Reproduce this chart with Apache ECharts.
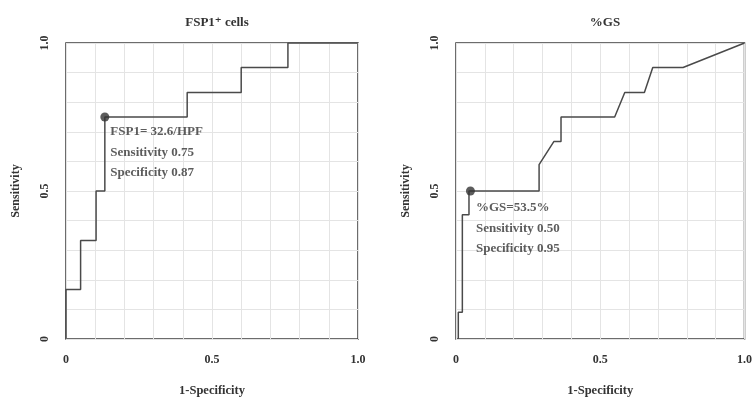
<!DOCTYPE html>
<html>
<head>
<meta charset="utf-8">
<script src="https://cdn.jsdelivr.net/npm/echarts@6/dist/echarts.min.js"></script>
<style>
  html, body { margin: 0; padding: 0; background: #fff; }
  #chart { width: 755px; height: 402px; }
</style>
</head>
<body>
<div id="chart"></div>
<script>
// ROC curve, FSP1+ cells
const fspX = [0, 0, 0.05, 0.05, 0.103, 0.103, 0.133, 0.133, 0.415, 0.415, 0.6, 0.6, 0.76, 0.76, 1];
const fspY = [0, 0.167, 0.167, 0.333, 0.333, 0.5, 0.5, 0.75, 0.75, 0.833, 0.833, 0.917, 0.917, 1, 1];
const fspCut = [0.133, 0.75];
const fspText = ['FSP1= 32.6/HPF', 'Sensitivity 0.75', 'Specificity 0.87'];

// ROC curve, %GS
const gsX = [0.008, 0.008, 0.022, 0.022, 0.045, 0.045, 0.288, 0.288, 0.339, 0.364, 0.364, 0.55, 0.585, 0.653, 0.682, 0.787, 1];
const gsY = [0, 0.09, 0.09, 0.42, 0.42, 0.5, 0.5, 0.589, 0.667, 0.667, 0.75, 0.75, 0.833, 0.833, 0.917, 0.917, 1];
const gsCut = [0.05, 0.5];
const gsText = ['%GS=53.5%', 'Sensitivity 0.50', 'Specificity 0.95'];

const titles = ['FSP1\u207A cells', '%GS'];
const tickLabels = { 0: '0', 0.5: '0.5', 1: '1.0' };

const font = '"Liberation Serif", "DejaVu Serif", serif';
const pairs = (xs, ys) => xs.map((x, i) => [x, ys[i]]);

const fmt = v => {
    for (const k in tickLabels) {
        if (Math.abs(v - Number(k)) < 1e-6) return tickLabels[k];
    }
    return '';
};

const txt = size => ({ fontFamily: font, fontWeight: 'bold', fontSize: size, color: '#333' });

const makeX = idx => ({
    type: 'value', gridIndex: idx, min: 0, max: 1, interval: 0.1,
    name: '1-Specificity', nameLocation: 'middle', nameGap: 45,
    nameTextStyle: txt(12.5),
    axisLine: { show: false }, axisTick: { show: false },
    axisLabel: Object.assign({ formatter: fmt, margin: 15 }, txt(12)),
    splitLine: { show: true, lineStyle: { color: '#e4e4e4', width: 1 } }
});

const makeY = idx => ({
    type: 'value', gridIndex: idx, min: 0, max: 1, interval: 0.1,
    name: 'Sensitivity', nameLocation: 'middle', nameGap: 44, nameRotate: 90,
    nameTextStyle: txt(12),
    axisLine: { show: false }, axisTick: { show: false },
    axisLabel: Object.assign({ formatter: fmt, rotate: 90, margin: 15 }, txt(12)),
    splitLine: { show: true, lineStyle: { color: '#e4e4e4', width: 1 } }
});

const curve = (idx, data) => ({
    type: 'line', xAxisIndex: idx, yAxisIndex: idx, data: data,
    showSymbol: false, symbol: 'none', animation: false,
    lineStyle: { color: '#4a4a4a', width: 1.5 }
});

const cutoff = (idx, pt, lines, pos) => ({
    type: 'scatter', xAxisIndex: idx, yAxisIndex: idx, data: [pt],
    symbol: 'circle', symbolSize: 9, animation: false, z: 5,
    itemStyle: { color: '#333' },
    label: Object.assign({
        show: true, position: pos, align: 'left', verticalAlign: 'top',
        formatter: () => lines.join('\n'), lineHeight: 20.5
    }, txt(13))
});

const chart = echarts.init(document.getElementById('chart'));
chart.setOption({
    backgroundColor: '#fff',
    animation: false,
    title: [
        { text: titles[0], left: 212, top: 11, textAlign: 'center', textStyle: txt(13) },
        { text: titles[1], left: 600, top: 11, textAlign: 'center', textStyle: txt(13) }
    ],
    grid: [
        { left: 66, top: 43, width: 292, height: 301, show: true, borderColor: '#3c3c3c', borderWidth: 1.5 },
        { left: 456, top: 43, width: 292, height: 301, show: true, borderColor: '#3c3c3c', borderWidth: 1.5 }
    ],
    xAxis: [makeX(0), makeX(1)],
    yAxis: [makeY(0), makeY(1)],
    series: [
        curve(0, pairs(fspX, fspY)),
        curve(1, pairs(gsX, gsY)),
        cutoff(0, fspCut, fspText, [10, 9]),
        cutoff(1, gsCut, gsText, [10, 11])
    ]
});
</script>
</body>
</html>
